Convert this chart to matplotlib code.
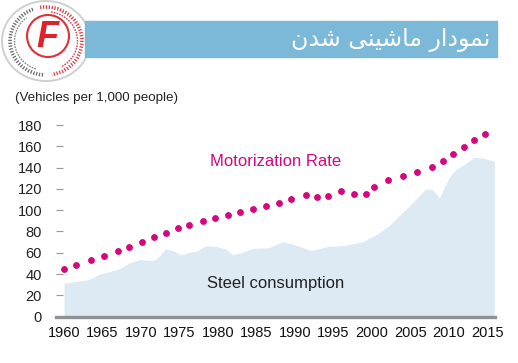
import numpy as np
import matplotlib
matplotlib.use("Agg")
import matplotlib.pyplot as plt
from matplotlib import font_manager
from matplotlib.patches import Ellipse, Rectangle, Arc, Circle

# motorization rate (vehicles per 1,000 people), dots
motor_years = [1960.0, 1961.6, 1963.5, 1965.2, 1967.0, 1968.5, 1970.1, 1971.7, 1973.2,
               1974.8, 1976.3, 1978.0, 1979.6, 1981.3, 1982.9, 1984.6, 1986.2, 1987.9,
               1989.5, 1991.5, 1992.9, 1994.3, 1996.0, 1997.7, 1999.3, 2000.3, 2002.1,
               2004.0, 2005.9, 2007.8, 2009.2, 2010.6, 2012.0, 2013.3, 2014.7]
motor_vals = [44.8, 48.8, 52.9, 57.2, 61.3, 65.6, 70.0, 74.4, 78.4,
              82.8, 86.2, 89.4, 92.4, 95.2, 98.0, 101.1, 104.3, 107.1,
              110.8, 113.9, 112.3, 113.6, 117.9, 115.5, 114.8, 121.7, 127.9,
              132.3, 136.3, 140.3, 145.9, 152.5, 159.0, 165.5, 171.1]

# steel consumption (area)
steel_years = [1960.0, 1962.4, 1963.3, 1964.6, 1966.3, 1967.2, 1968.5, 1969.8, 1971.5,
               1972.0, 1973.2, 1974.1, 1975.2, 1976.3, 1977.1, 1978.4, 1979.7, 1981.0,
               1981.9, 1983.2, 1984.5, 1986.6, 1988.4, 1989.7, 1992.1, 1994.4, 1996.2,
               1998.8, 2000.9, 2002.2, 2004.0, 2005.7, 2007.0, 2007.8, 2008.8, 2010.1,
               2010.9, 2012.0, 2013.3, 2014.4, 2015.9]
steel_vals = [31.5, 33.9, 34.8, 39.8, 43.0, 44.8, 50.4, 53.5, 52.6,
              54.0, 63.5, 62.0, 58.0, 60.4, 61.0, 66.6, 66.0, 63.5,
              58.0, 60.4, 64.1, 64.7, 70.3, 68.2, 62.0, 66.0, 66.6,
              70.3, 78.4, 85.2, 97.8, 110.0, 120.0, 119.5, 111.8, 131.4,
              138.2, 142.9, 149.7, 149.0, 145.9]

xticks = list(range(1960, 2016, 5))
yticks = list(range(0, 181, 20))

title_fa = "\uFEE5\uFEAA\uFEB7 \uFEF0\uFEE8\uFEF4\uFEB7\uFE8E\uFEE3 \uFEAD\uFE8D\uFEA9\uFEEE\uFEE4\uFEE7"

def has_font(name):
    try:
        font_manager.findfont(name, fallback_to_default=False)
        return True
    except Exception:
        return False

narrow = "Liberation Sans Narrow" if has_font("Liberation Sans Narrow") else "Liberation Sans"

W, H = 518, 363
fig = plt.figure(figsize=(W / 100, H / 100), dpi=100)
fig.patch.set_facecolor("white")

ax = fig.add_axes([56 / W, (H - 316.6) / H, 439 / W, 191.6 / H])
ax.fill_between(steel_years, steel_vals, 0, color="#dde9f3", lw=0, zorder=1)
ax.plot(motor_years, motor_vals, ls="none", marker="o", ms=3.9, color="#d5067e",
        mec="#d5067e", zorder=3)

ax.set_xlim(1958.96, 2016)
ax.set_ylim(0, 180)
ax.set_xticks(xticks)
ax.set_yticks(yticks)
for s in ["top", "right", "left"]:
    ax.spines[s].set_visible(False)
ax.spines["bottom"].set_color("#8e9196")
ax.spines["bottom"].set_linewidth(2.4)
ax.spines["bottom"].set_zorder(4)
ax.tick_params(axis="y", direction="in", length=5.2, width=0.8, color="#9a9a9a",
               pad=10, labelsize=10.5, labelcolor="#222222")
ax.tick_params(axis="x", length=0, pad=7, labelsize=10.5, labelcolor="#111111")
for lab in ax.get_yticklabels():
    lab.set_fontfamily("Liberation Sans")
for lab in ax.get_xticklabels():
    lab.set_fontfamily(narrow)
ax.set_facecolor("none")

ax.text(1987.5, 146, "Motorization Rate", color="#d5067e", fontsize=12,
        family="Liberation Sans", ha="center", va="center")
ax.text(1987.5, 31, "Steel consumption", color="#222222", fontsize=12,
        family="Liberation Sans", ha="center", va="center")

fig.text(15 / W, 1 - 98 / H, "(Vehicles per 1,000 people)", fontsize=9.6,
         family="Liberation Sans", color="#222222", ha="left", va="center")

# header banner
fig.patches.append(Rectangle((85 / W, 1 - 56.7 / H), 412 / W, 36 / H,
                             transform=fig.transFigure, color="#7cb9d8", zorder=1))
fig.text(490 / W, 1 - 40 / H, title_fa, fontsize=17, color="white",
         family=["DejaVu Sans", "Noto Sans"], ha="right", va="center", zorder=3)

# logo
lx = fig.add_axes([0, 1 - 82 / H, 92 / W, 82 / H])
lx.set_xlim(0, 92)
lx.set_ylim(82, 0)
lx.set_aspect("equal")
lx.axis("off")
lx.add_patch(Ellipse((46, 41), 88, 80, facecolor="white", edgecolor="#cfcfcf", lw=1.4))
lx.add_patch(Arc((46, 41), 72, 68, theta1=95, theta2=250, color="#6a6a6a", lw=2.6,
                 ls=(0, (0.35, 0.45))))
lx.add_patch(Arc((46, 41), 72, 68, theta1=-100, theta2=80, color="#e0404a", lw=2.6,
                 ls=(0, (0.35, 0.45))))
lx.add_patch(Arc((46, 41), 63, 59, theta1=110, theta2=230, color="#888888", lw=1.0,
                 ls=(0, (1.2, 0.8))))
lx.add_patch(Arc((46, 41), 63, 59, theta1=-80, theta2=60, color="#e0404a", lw=1.0,
                 ls=(0, (1.2, 0.8))))
lx.add_patch(Circle((48, 36), 21, facecolor="white", edgecolor="#e0303a", lw=1.5))
lx.text(47, 37, "F", color="#e0202a", fontsize=26, fontweight="bold", style="italic",
        family="Liberation Sans", ha="center", va="center")

fig.savefig("out.png", dpi=100)
